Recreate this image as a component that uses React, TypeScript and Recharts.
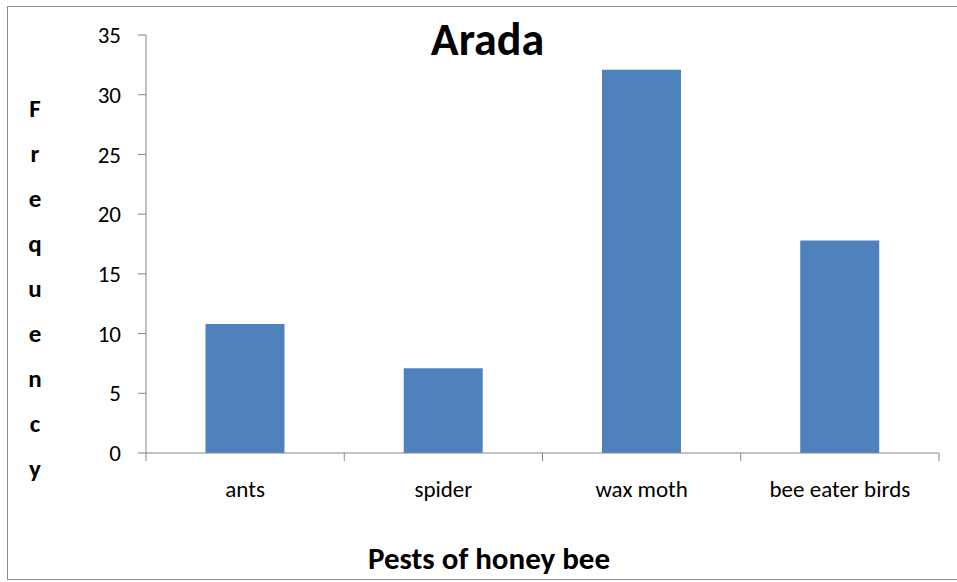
import { BarChart, Bar, XAxis, YAxis } from "recharts";

const categories = ["ants", "spider", "wax moth", "bee eater birds"];
const frequency = [10.8, 7.1, 32.1, 17.8];
const yTicks = [0, 5, 10, 15, 20, 25, 30, 35];
const yLabelLetters = ["F", "r", "e", "q", "u", "e", "n", "c", "y"];

const data = categories.map((name, i) => ({ name, value: frequency[i] }));

const FONT = "Carlito, Lato, 'Liberation Sans', sans-serif";
const AXIS = "#868686";
const CHART_W = 949;
const CHART_H = 572;
const MARGIN = { top: 28, right: 18, left: 0, bottom: 96 };
const Y_AXIS_W = 138;
const PLOT_W = CHART_W - MARGIN.left - MARGIN.right - Y_AXIS_W;
const BAND = PLOT_W / categories.length;

function CategoryTick(props: any) {
  const { x, y, payload, index } = props;
  const left = x - BAND / 2;
  return (
    <g>
      <line x1={left} y1={y - 8} x2={left} y2={y} stroke={AXIS} />
      {index === categories.length - 1 && (
        <line x1={left + BAND} y1={y - 8} x2={left + BAND} y2={y} stroke={AXIS} />
      )}
      <text x={x} y={y + 36} textAnchor="middle" fontFamily={FONT} fontSize={23} fill="#000">
        {payload.value}
      </text>
    </g>
  );
}

export default function App() {
  return (
    <div
      style={{
        position: "absolute",
        left: 7,
        top: 6,
        width: CHART_W,
        height: CHART_H,
        border: "1px solid #8c8c8c",
        borderRight: "none",
        background: "#fff",
      }}
    >
      <BarChart width={CHART_W} height={CHART_H} data={data} margin={MARGIN} barCategoryGap="30%">
        <XAxis
          dataKey="name"
          stroke={AXIS}
          tickLine={false}
          height={30}
          interval={0}
          tick={<CategoryTick />}
        />
        <YAxis
          width={Y_AXIS_W}
          domain={[0, 35]}
          ticks={yTicks}
          stroke={AXIS}
          tickSize={8}
          tickMargin={17}
          tick={{ fontFamily: FONT, fontSize: 23, fill: "#000" }}
        />
        <Bar dataKey="value" fill="#4F81BD" isAnimationActive={false} />
      </BarChart>
      <svg
        width={CHART_W}
        height={CHART_H}
        style={{ position: "absolute", left: 0, top: 0, pointerEvents: "none" }}
      >
        <text x={479.5} y={48} textAnchor="middle" fontFamily={FONT} fontWeight="bold" fontSize={46}>
          Arada
        </text>
        {yLabelLetters.map((ch, i) => (
          <text
            key={i}
            x={27}
            y={110 + i * 45}
            textAnchor="middle"
            fontFamily={FONT}
            fontWeight="bold"
            fontSize={25}
          >
            {ch}
          </text>
        ))}
        <text x={481} y={562} textAnchor="middle" fontFamily={FONT} fontWeight="bold" fontSize={31}>
          Pests of honey bee
        </text>
      </svg>
    </div>
  );
}
